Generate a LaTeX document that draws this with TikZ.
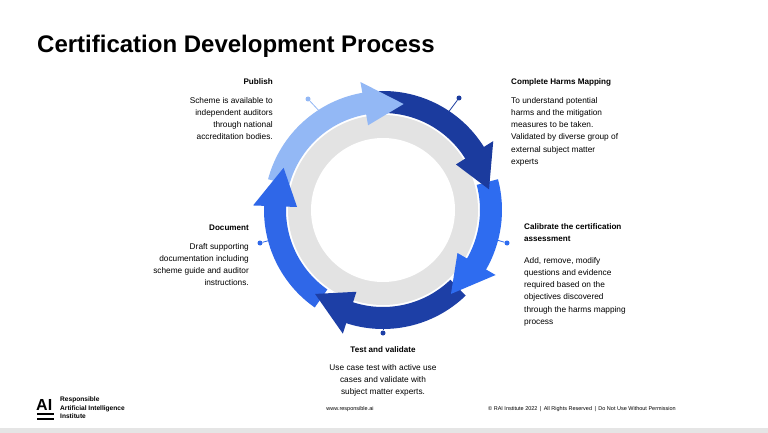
\documentclass[tikz,border=0pt]{standalone}
\usepackage{fontspec}
\setmainfont{Liberation Sans}
\begin{document}
\begin{tikzpicture}[x=1pt,y=-1pt,
  lbl/.style={inner sep=0pt,font=\fontsize{8.3}{12.2}\selectfont},
  ttl/.style={inner sep=0pt,font=\fontsize{8.1}{12.2}\selectfont\bfseries},
  pin/.style={line width=0.8pt},
  dot/.style={circle,inner sep=0pt,minimum size=5pt}]
\definecolor{cLight}{HTML}{93B8F5}
\definecolor{cDark}{HTML}{1B3B9E}
\definecolor{cMid}{HTML}{2E6CF0}
\definecolor{cDark2}{HTML}{1D3FA6}
\definecolor{cDoc}{HTML}{2F67E8}
\useasboundingbox (0,0) rectangle (768,433);
\fill[white] (0,0) rectangle (768,433);
\fill[black!10] (0,428) rectangle (768,433);
\node[anchor=base west,inner sep=0pt,font=\fontsize{24}{28}\selectfont\bfseries] (title) at (37,53) {Certification Development Process};
% pins (under circle)
\node[dot,fill=cLight] (p1) at (308,99) {};
\coordinate (p1e) at (322,114);
\draw[pin,cLight] (p1) -- (p1e);
\node[dot,fill=cDark] (p2) at (459,98) {};
\coordinate (p2e) at (447,114);
\draw[pin,cDark] (p2) -- (p2e);
\node[dot,fill=cMid] (p3) at (507,243) {};
\coordinate (p3e) at (490,238);
\draw[pin,cMid] (p3) -- (p3e);
\node[dot,fill=cDoc] (p4) at (260,243) {};
\coordinate (p4e) at (278,238);
\draw[pin,cDoc] (p4) -- (p4e);
\node[dot,fill=cDark2] (p5) at (383,333) {};
\coordinate (p5e) at (383,318);
\draw[pin,cDark2] (p5) -- (p5e);
\begin{scope}[shift={(383,210)},yscale=-1]
  \fill[black!11] (0,0) circle (95);
  \fill[white] (0,0) circle (72);
  \newcommand\band[3]{\fill[#3] (#1:119) arc[start angle=#1,end angle=#2,radius=119] -- (#2:97) arc[start angle=#2,end angle=#1,radius=97] -- cycle;}
  \newcommand\hd[2]{\fill[#2] ({#1+21}:130) -- (#1:108) -- ({#1+21}:86) -- cycle;}
  \band{165}{99}{cLight}
  \band{92}{31}{cDark}
  \band{15}{-31}{cMid}
  \band{-46}{-109}{cDark2}
  \band{235}{177}{cDoc}
  \hd{79}{cLight}
  \hd{11}{cDark}
  \hd{-51}{cMid}
  \hd{-129}{cDark2}
  \hd{157}{cDoc}
\end{scope}
% labels
\node[ttl,anchor=base east] (t1) at (273,85) {Publish};
\node[lbl,anchor=north east,align=right] (b1) at (273,97) {Scheme is available to\\independent auditors\\through national\\accreditation bodies.};
\node[ttl,anchor=base west] (t2) at (511,85) {Complete Harms Mapping};
\node[lbl,anchor=north west,align=left] (b2) at (511,97) {To understand potential\\harms and the mitigation\\measures to be taken.\\Validated by diverse group of\\external subject matter\\experts};
\node[ttl,anchor=north west,align=left] (t3) at (524,223) {Calibrate the certification\\assessment};
\node[lbl,anchor=north west,align=left] (b3) at (524,257) {Add, remove, modify\\questions and evidence\\required based on the\\objectives discovered\\through the harms mapping\\process};
\node[ttl,anchor=base east] (t4) at (249,230) {Document};
\node[lbl,anchor=north east,align=right] (b4) at (249,243) {Draft supporting\\documentation including\\scheme guide and auditor\\instructions.};
\node[ttl,anchor=base] (t5) at (383,352) {Test and validate};
\node[lbl,anchor=north,align=center] (b5) at (383,364) {Use case test with active use\\cases and validate with\\subject matter experts.};
% footer
\node[anchor=base west,inner sep=0pt,font=\fontsize{16}{18}\selectfont\bfseries] (ai) at (36,410) {AI};
\fill (37,413) rectangle (54,415);
\fill (37,418) rectangle (54,420);
\node[anchor=north west,inner sep=0pt,align=left,font=\fontsize{6.6}{8.4}\selectfont\bfseries] (org) at (60,397) {Responsible\\Artificial Intelligence\\Institute};
\node[anchor=base,inner sep=0pt,font=\fontsize{5.5}{7}\selectfont] (web) at (350,410) {www.responsible.ai};
\node[anchor=base west,inner sep=0pt,font=\fontsize{5.5}{7}\selectfont] (cp) at (488,410) {\textcopyright{} RAI Institute 2022 \,|\, All Rights Reserved \,|\, Do Not Use Without Permission};
\end{tikzpicture}
\end{document}
